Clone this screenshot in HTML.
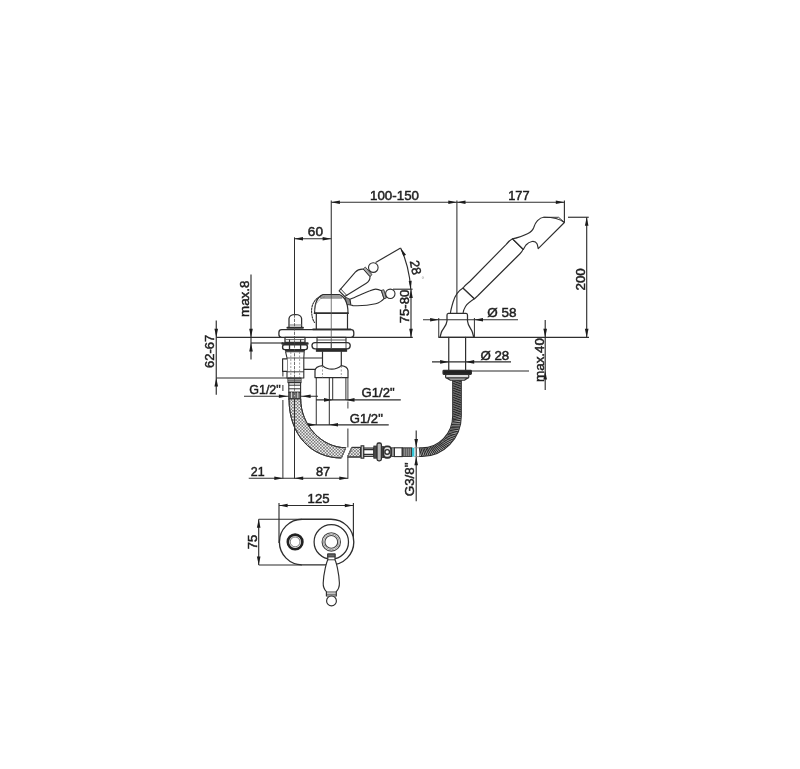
<!DOCTYPE html>
<html lang="en"><head><meta charset="utf-8"><title>Technical drawing</title>
<style>
html,body{margin:0;padding:0;background:#fff;}
body{width:800px;height:769px;overflow:hidden;}
svg{display:block;font-family:"Liberation Sans",sans-serif;}
</style></head><body>
<svg width="800" height="769" viewBox="0 0 800 769">
<defs>
<pattern id="hatch" width="3.1" height="3.1" patternUnits="userSpaceOnUse">
<path d="M0,0 L3.1,3.1 M3.1,0 L0,3.1" stroke="#555" stroke-width="0.6" fill="none"/>
</pattern>
<filter id="soft" x="0" y="0" width="800" height="769" filterUnits="userSpaceOnUse"><feGaussianBlur stdDeviation="0.45"/></filter>
</defs>
<rect width="800" height="769" fill="#fff"/>
<g filter="url(#soft)">
<g id="dims">
<line x1="216.25" y1="337.4" x2="412.8" y2="337.4" stroke="#2e2e2e" stroke-width="1.15" />
<line x1="438.4" y1="337.4" x2="589" y2="337.4" stroke="#2e2e2e" stroke-width="1.15" />
<line x1="331.25" y1="202.25" x2="564.4" y2="202.25" stroke="#2e2e2e" stroke-width="1.15" />
<line x1="564.4" y1="200.6" x2="564.4" y2="222.5" stroke="#2e2e2e" stroke-width="1.15" />
<polygon points="331.25,202.25 339.85,200.45 339.85,204.05" fill="#1c1c1c"/>
<polygon points="456.90,202.25 448.30,204.05 448.30,200.45" fill="#1c1c1c"/>
<polygon points="456.90,202.25 465.50,200.45 465.50,204.05" fill="#1c1c1c"/>
<polygon points="564.40,202.25 555.80,204.05 555.80,200.45" fill="#1c1c1c"/>
<text x="370" y="200" font-size="13" text-anchor="start" fill="#1e1e1e" stroke="#1e1e1e" stroke-width="0.47" textLength="49" lengthAdjust="spacingAndGlyphs">100-150</text>
<text x="508.2" y="200" font-size="13" text-anchor="start" fill="#1e1e1e" stroke="#1e1e1e" stroke-width="0.47" textLength="21.4" lengthAdjust="spacingAndGlyphs">177</text>
<line x1="294.4" y1="238.75" x2="331.25" y2="238.75" stroke="#2e2e2e" stroke-width="1.15" />
<polygon points="294.40,238.75 303.00,236.95 303.00,240.55" fill="#1c1c1c"/>
<polygon points="331.25,238.75 322.65,240.55 322.65,236.95" fill="#1c1c1c"/>
<text x="307.8" y="235.9" font-size="13" text-anchor="start" fill="#1e1e1e" stroke="#1e1e1e" stroke-width="0.47" textLength="15.2" lengthAdjust="spacingAndGlyphs">60</text>
<line x1="375.6" y1="262.6" x2="400.6" y2="248.1" stroke="#2e2e2e" stroke-width="1.15" />
<path d="M400.6,248.1 Q409.2,266 410.8,289.4" stroke="#2e2e2e" stroke-width="1.15" fill="none" />
<polygon points="400.60,248.10 405.98,254.73 403.35,256.18" fill="#1c1c1c"/>
<polygon points="410.80,289.40 408.70,280.93 411.70,280.72" fill="#1c1c1c"/>
<line x1="393" y1="289.2" x2="412.6" y2="289.2" stroke="#2e2e2e" stroke-width="1.15" />
<text font-size="13" fill="#1e1e1e" stroke="#1e1e1e" stroke-width="0.47" text-anchor="middle" transform="translate(411.2,268.3) rotate(79)" textLength="14.6" lengthAdjust="spacingAndGlyphs">28</text>
<text font-size="8" fill="#a8a8a8" transform="translate(423.2,277.6) rotate(79)" x="-1.6" y="4.6">°</text>
<line x1="411" y1="289.4" x2="411" y2="337.4" stroke="#2e2e2e" stroke-width="1.15" />
<polygon points="411.00,289.40 412.80,298.00 409.20,298.00" fill="#1c1c1c"/>
<polygon points="411.00,337.40 409.20,328.80 412.80,328.80" fill="#1c1c1c"/>
<text font-size="13" fill="#1e1e1e" stroke="#1e1e1e" stroke-width="0.47" text-anchor="middle" transform="translate(409.3,306.5) rotate(-90)" textLength="33.4" lengthAdjust="spacingAndGlyphs">75-80</text>
<line x1="216.25" y1="320.6" x2="216.25" y2="394.8" stroke="#2e2e2e" stroke-width="1.15" />
<polygon points="216.25,337.40 214.45,328.80 218.05,328.80" fill="#1c1c1c"/>
<polygon points="216.25,378.00 218.05,386.60 214.45,386.60" fill="#1c1c1c"/>
<line x1="216.25" y1="378" x2="288" y2="378" stroke="#2e2e2e" stroke-width="1.15" />
<text font-size="13" fill="#1e1e1e" stroke="#1e1e1e" stroke-width="0.47" text-anchor="middle" transform="translate(214.2,351.4) rotate(-90)" textLength="33.2" lengthAdjust="spacingAndGlyphs">62-67</text>
<line x1="251" y1="274.4" x2="251" y2="359.4" stroke="#2e2e2e" stroke-width="1.15" />
<polygon points="251.00,337.40 249.20,328.80 252.80,328.80" fill="#1c1c1c"/>
<polygon points="251.00,343.00 252.80,351.60 249.20,351.60" fill="#1c1c1c"/>
<line x1="251" y1="343" x2="283" y2="343" stroke="#2e2e2e" stroke-width="1.15" />
<text font-size="13" fill="#1e1e1e" stroke="#1e1e1e" stroke-width="0.47" text-anchor="middle" transform="translate(249.3,298.8) rotate(-90)" textLength="36.4" lengthAdjust="spacingAndGlyphs">max.8</text>
<line x1="244" y1="396.25" x2="318" y2="396.25" stroke="#2e2e2e" stroke-width="1.15" />
<polygon points="287.50,396.25 278.90,398.05 278.90,394.45" fill="#1c1c1c"/>
<polygon points="302.00,396.25 310.60,394.45 310.60,398.05" fill="#1c1c1c"/>
<text x="249.2" y="393.8" font-size="13" text-anchor="start" fill="#1e1e1e" stroke="#1e1e1e" stroke-width="0.47" textLength="31.6" lengthAdjust="spacingAndGlyphs">G1/2"</text>
<line x1="316" y1="399.9" x2="400.8" y2="399.9" stroke="#2e2e2e" stroke-width="1.15" />
<polygon points="332.60,399.90 324.00,401.70 324.00,398.10" fill="#1c1c1c"/>
<polygon points="345.90,399.90 354.50,398.10 354.50,401.70" fill="#1c1c1c"/>
<text x="361.6" y="397.4" font-size="13" text-anchor="start" fill="#1e1e1e" stroke="#1e1e1e" stroke-width="0.47" textLength="33" lengthAdjust="spacingAndGlyphs">G1/2"</text>
<line x1="300" y1="424.8" x2="388.75" y2="424.8" stroke="#2e2e2e" stroke-width="1.15" />
<polygon points="316.25,424.80 307.65,426.60 307.65,423.00" fill="#1c1c1c"/>
<polygon points="329.40,424.80 338.00,423.00 338.00,426.60" fill="#1c1c1c"/>
<text x="349.8" y="422.6" font-size="13" text-anchor="start" fill="#1e1e1e" stroke="#1e1e1e" stroke-width="0.47" textLength="33" lengthAdjust="spacingAndGlyphs">G1/2"</text>
<line x1="248.75" y1="478.25" x2="347.9" y2="478.25" stroke="#2e2e2e" stroke-width="1.15" />
<line x1="282.9" y1="400" x2="282.9" y2="478.7" stroke="#2e2e2e" stroke-width="1.0" />
<line x1="282.9" y1="371.4" x2="282.9" y2="376.5" stroke="#2e2e2e" stroke-width="1.0" />
<line x1="282.9" y1="385" x2="282.9" y2="391" stroke="#2e2e2e" stroke-width="1.0" />
<line x1="347.9" y1="428.5" x2="347.9" y2="447.4" stroke="#2e2e2e" stroke-width="1.0" />
<line x1="347.9" y1="457.2" x2="347.9" y2="478.8" stroke="#2e2e2e" stroke-width="1.0" />
<polygon points="282.90,478.25 274.30,480.05 274.30,476.45" fill="#1c1c1c"/>
<polygon points="294.60,478.25 303.20,476.45 303.20,480.05" fill="#1c1c1c"/>
<polygon points="347.90,478.25 339.30,480.05 339.30,476.45" fill="#1c1c1c"/>
<text x="250.8" y="475.7" font-size="13" text-anchor="start" fill="#1e1e1e" stroke="#1e1e1e" stroke-width="0.47" textLength="13.8" lengthAdjust="spacingAndGlyphs">21</text>
<text x="316" y="475.7" font-size="13" text-anchor="start" fill="#1e1e1e" stroke="#1e1e1e" stroke-width="0.47" textLength="14.2" lengthAdjust="spacingAndGlyphs">87</text>
<line x1="423" y1="319.75" x2="518" y2="319.75" stroke="#2e2e2e" stroke-width="1.15" />
<line x1="438.75" y1="318" x2="438.75" y2="337.4" stroke="#2e2e2e" stroke-width="1.0" />
<line x1="474.4" y1="318" x2="474.4" y2="337.4" stroke="#2e2e2e" stroke-width="1.0" />
<polygon points="438.75,319.75 430.15,321.55 430.15,317.95" fill="#1c1c1c"/>
<polygon points="474.40,319.75 483.00,317.95 483.00,321.55" fill="#1c1c1c"/>
<text x="487.2" y="317" font-size="13" text-anchor="start" fill="#1e1e1e" stroke="#1e1e1e" stroke-width="0.47" textLength="29.2" lengthAdjust="spacingAndGlyphs">Ø 58</text>
<line x1="432" y1="361.9" x2="511" y2="361.9" stroke="#2e2e2e" stroke-width="1.15" />
<polygon points="448.75,361.90 440.15,363.70 440.15,360.10" fill="#1c1c1c"/>
<polygon points="465.60,361.90 474.20,360.10 474.20,363.70" fill="#1c1c1c"/>
<text x="480.4" y="359.5" font-size="13" text-anchor="start" fill="#1e1e1e" stroke="#1e1e1e" stroke-width="0.47" textLength="28.8" lengthAdjust="spacingAndGlyphs">Ø 28</text>
<line x1="471" y1="371" x2="529" y2="371" stroke="#2e2e2e" stroke-width="1.15" />
<line x1="545.2" y1="320" x2="545.2" y2="390" stroke="#2e2e2e" stroke-width="1.15" />
<polygon points="545.20,337.40 543.40,328.80 547.00,328.80" fill="#1c1c1c"/>
<polygon points="545.20,371.00 547.00,379.60 543.40,379.60" fill="#1c1c1c"/>
<text font-size="13" fill="#1e1e1e" stroke="#1e1e1e" stroke-width="0.47" text-anchor="middle" transform="translate(544.4,360) rotate(-90)" textLength="44" lengthAdjust="spacingAndGlyphs">max.40</text>
<line x1="568" y1="217.25" x2="588.75" y2="217.25" stroke="#2e2e2e" stroke-width="1.15" />
<line x1="586.7" y1="217.25" x2="586.7" y2="337.4" stroke="#2e2e2e" stroke-width="1.15" />
<polygon points="586.70,217.25 588.50,225.85 584.90,225.85" fill="#1c1c1c"/>
<polygon points="586.70,337.40 584.90,328.80 588.50,328.80" fill="#1c1c1c"/>
<text font-size="13" fill="#1e1e1e" stroke="#1e1e1e" stroke-width="0.47" text-anchor="middle" transform="translate(585.1,279.4) rotate(-90)" textLength="22.4" lengthAdjust="spacingAndGlyphs">200</text>
<line x1="416.2" y1="430.6" x2="416.2" y2="501.3" stroke="#2e2e2e" stroke-width="1.15" />
<polygon points="416.20,447.50 414.40,438.90 418.00,438.90" fill="#1c1c1c"/>
<polygon points="416.20,456.70 418.00,465.30 414.40,465.30" fill="#1c1c1c"/>
<text font-size="13" fill="#1e1e1e" stroke="#1e1e1e" stroke-width="0.47" text-anchor="middle" transform="translate(413.7,479.4) rotate(-90)" textLength="33.8" lengthAdjust="spacingAndGlyphs">G3/8"</text>
<line x1="279" y1="505.5" x2="353.4" y2="505.5" stroke="#2e2e2e" stroke-width="1.15" />
<line x1="279" y1="503" x2="279" y2="543" stroke="#2e2e2e" stroke-width="1.15" />
<line x1="353.4" y1="503" x2="353.4" y2="540" stroke="#2e2e2e" stroke-width="1.15" />
<polygon points="279.00,505.50 287.60,503.70 287.60,507.30" fill="#1c1c1c"/>
<polygon points="353.40,505.50 344.80,507.30 344.80,503.70" fill="#1c1c1c"/>
<text x="307.6" y="502.8" font-size="13" text-anchor="start" fill="#1e1e1e" stroke="#1e1e1e" stroke-width="0.47" textLength="22" lengthAdjust="spacingAndGlyphs">125</text>
<line x1="258.7" y1="519.25" x2="258.7" y2="565" stroke="#2e2e2e" stroke-width="1.15" />
<line x1="258.7" y1="519.25" x2="302" y2="519.25" stroke="#2e2e2e" stroke-width="1.15" />
<line x1="258.7" y1="565" x2="302" y2="565" stroke="#2e2e2e" stroke-width="1.15" />
<polygon points="258.70,519.25 260.50,527.85 256.90,527.85" fill="#1c1c1c"/>
<polygon points="258.70,565.00 256.90,556.40 260.50,556.40" fill="#1c1c1c"/>
<text font-size="13" fill="#1e1e1e" stroke="#1e1e1e" stroke-width="0.47" text-anchor="middle" transform="translate(257.2,542) rotate(-90)" textLength="14.6" lengthAdjust="spacingAndGlyphs">75</text>
</g>
<g id="parts">
<!-- ============ FAUCET SIDE VIEW ============ -->
<g stroke="#2e2e2e" stroke-width="1.1" fill="none" stroke-linejoin="round" stroke-linecap="round">
  <!-- base plate -->
  <rect x="278.9" y="329.7" width="74.9" height="7.7" rx="2.8" fill="#fff" stroke-width="1.3"/>
  <!-- dome -->
  <path d="M314.6,313.1 C314.6,303.5 317.5,296.6 323,294.6 L339.2,294.6 C344.8,296.6 348,303.5 348,313.1 Z" fill="#fff" stroke-width="1.2"/>
  <path d="M320.4,297.9 L341.8,297.9" stroke-width="1"/>
  <path d="M322.2,294.9 L340,294.9 L341.8,297.9 L320.4,297.9 Z" fill="#9a9a9a" stroke="none"/>
  <path d="M314.4,313.2 L348.2,313.2" stroke-width="1.5"/>
  <path d="M316.3,313.2 L316.3,329.3 M347.5,313.2 L347.5,329.3" stroke-width="1.2"/>
  <path d="M313,329.4 L350.6,329.4" stroke-width="1.6"/>
  <!-- dashed swing arc -->
  <path d="M322,295.6 C314.5,298.5 311.2,305 311.6,312 C311.9,317 313,320.5 314.6,322.5" stroke="#333" stroke-width="1.1" stroke-dasharray="1.6 1.2"/>
  <path d="M324.5,297 C318,299.5 314.2,305 314.3,311" stroke="#777" stroke-width="0.7" stroke-dasharray="1.2 1.6"/>
  <!-- lower handle -->
  <path d="M345.4,297.2 L350,299.3 L350.9,305 L347.4,304.6 Z" fill="#8a8a8a" stroke-width="0.9"/>
  <path d="M350,299.3 C357,296.5 364,293 370,290.8 C372.5,289.7 374.5,289.1 375.7,289.1 C378,289.1 380,290 381.5,290.8 L384,298.7 C383,299.8 382,300.7 380.5,301.6 C379,302.6 377.5,303.4 375.7,303.8 C368,305.5 358,305.8 353,305.6 L350.9,305 Z" fill="#fff"/>
  <path d="M381.5,290.8 L384,298.7 L386.4,298 L383.9,290.1 Z" fill="#aaa" stroke-width="0.9"/>
  <circle cx="390.3" cy="293.8" r="4.7" fill="#fff"/>
  <!-- upper handle -->
  <path d="M339.1,290.8 L355.3,272.1 C357.5,269.8 361,268.9 363.5,269.2 L370,276.5 C370.2,279.5 368.3,282 365.9,283.5 L344.75,296.5 Z" fill="#fff"/>
  <path d="M340.8,289 L346.6,295.2" stroke-width="0.9"/>
  <path d="M363.5,269.2 L370,276.5 L372,274.6 L365.6,267.4 Z" fill="#aaa" stroke-width="0.9"/>
  <circle cx="373.3" cy="267.6" r="4.8" fill="#fff"/>
  <!-- diverter knob -->
  <path d="M289,327 L289,318.6 Q289.4,314.6 295.3,314.5 Q301.2,314.6 301.6,318.6 L301.6,327" fill="#fff" stroke-width="1.25"/>
  <path d="M289,325 L301.6,325" stroke-width="0.9" stroke="#666"/>
  <path d="M287.4,327.8 L303,327.8" stroke-width="1.9"/>
  
</g>
<!-- left under-deck stack -->
<g stroke="#2e2e2e" stroke-width="1.1" fill="#fff" stroke-linejoin="round">
  <rect x="285" y="337.4" width="20" height="5" stroke-width="1.3"/>
  <path d="M285,339.6 L305,339.6" stroke="#666" stroke-width="1"/>
  <path d="M289.5,339.6 L289.5,342.4 M300.6,339.6 L300.6,342.4" stroke-width="1.1"/>
  <rect x="281.4" y="342.3" width="27.2" height="2.5" rx="0.8" fill="#2e2e2e" stroke="none"/>
  <rect x="282.6" y="344.8" width="24.8" height="4.8" rx="2" stroke-width="1.4"/>
  <path d="M289.5,344.8 L289.5,349.6 M300.6,344.8 L300.6,349.6" stroke-width="1.3"/>
  <rect x="285" y="349.8" width="20" height="1.7" fill="#2e2e2e" stroke="none"/>
  <path d="M286.2,353.1 L303.8,353.1" stroke-width="1"/>
  <path d="M285.6,351.8 L287,358 L287,378 L303.8,378 L303.8,358 L304.2,351.8 Z"/>
  <path d="M287,358 L303.8,358" stroke-width="0.8"/>
  <path d="M287,371.8 L303.8,371.8" stroke-width="0.9"/>
  <path d="M287,358.8 L282.6,358.8 L282.6,371.4 L287,371.4" stroke-width="1.2"/>
  <path d="M290.8,352 L290.8,378 M299.6,352 L299.6,378" stroke="#777" stroke-width="0.7" stroke-dasharray="2 1.5"/>
  <!-- threads -->
  <rect x="288" y="378" width="13" height="4.6" fill="#555"/>
  <path d="M288,379.6 L301,379.6 M288,381.2 L301,381.2" stroke="#ddd" stroke-width="0.6"/>
  <rect x="288.8" y="382.6" width="11.8" height="9.6"/>
  <path d="M288.8,385.2 L300.6,385.2 M288.8,388.8 L300.6,388.8" stroke-width="1"/>
  <rect x="288.8" y="392.2" width="11.8" height="7" fill="#666"/>
  <path d="M291.6,392.2 L291.6,399.2 M294.7,392.2 L294.7,399.2 M297.8,392.2 L297.8,399.2" stroke="#eee" stroke-width="0.9"/>
  <!-- cross pipe -->
  <path d="M303.8,358 L322.5,358 M303.8,369.4 L317,369.4" fill="none"/>
</g>
<!-- right under-deck stack -->
<g stroke="#2e2e2e" stroke-width="1.1" fill="#fff" stroke-linejoin="round">
  <rect x="317" y="337.4" width="29" height="5.2"/>
  <path d="M317,340 L346,340" stroke-width="0.8"/>
  <rect x="312" y="342.6" width="38.2" height="6.2" rx="3" stroke-width="1.3"/>
  <path d="M317,342.6 L317,348.8 M331.3,342.6 L331.3,348.8 M346,342.6 L346,348.8" stroke-width="0.8"/>
  <rect x="316.4" y="349" width="30.2" height="2.3" fill="#2a2a2a"/>
  <path d="M322.5,351.3 L322.5,366 M341.3,351.3 L341.3,366" fill="none" stroke-width="1.2"/>
  <path d="M315,377.6 L315,370.6 Q315.4,366.4 322.5,365.6 Q326.5,369.2 331.8,369.2 Q337,369.2 341.3,365.6 Q347.6,366.4 348,370.6 L348,377.6 Z" stroke-width="1.2"/>
  <path d="M322.5,366 L322.5,377.6 M341.3,366 L341.3,377.6" stroke="#777" stroke-width="0.7" stroke-dasharray="2 1.5"/>
  <path d="M316.25,377.6 L316.25,425 M329.3,377.6 L329.3,425 M332.7,377.6 L332.7,400 M345.9,377.6 L345.9,400" fill="none" stroke-width="1"/>
  <path d="M347.9,377.6 L347.9,400 M347.9,401.5 L347.9,408.5" fill="none" stroke-width="0.9"/>
</g>

<!-- ============ BRAIDED HOSE ============ -->
<g stroke="#333" stroke-width="1.0" stroke-linejoin="round">
<path id="h1" d="M289,398.8 C289,435 311.25,458 341.4,458 L345.8,447.7 C321.5,447.7 300.7,425 300.7,398.8 Z" fill="#f2f2f2"/>
<path d="M289,398.8 C289,435 311.25,458 341.4,458 L345.8,447.7 C321.5,447.7 300.7,425 300.7,398.8 Z" fill="url(#hatch)"/>
<path d="M347.4,457 L351.8,447.4 L360.7,447.4 L360.7,457 Z" fill="#f2f2f2"/>
<path d="M347.4,457 L351.8,447.4 L360.7,447.4 L360.7,457 Z" fill="url(#hatch)"/>
</g>
<path d="M345.8,447.7 L341.4,458 M351.8,447.4 L347.4,457" stroke="#888" stroke-width="0.8" fill="none"/>

<!-- ============ FITTING ============ -->
<g stroke="#2e2e2e" stroke-width="1.1" fill="#fff">
  <rect x="361.1" y="445.8" width="2.7" height="12.4" fill="#c8c8c8" stroke-width="1.1"/>
  <rect x="363.8" y="448" width="10" height="8.4"/>
  <path d="M363.8,449.6 L373.8,449.6 M363.8,454.4 L373.8,454.4" stroke-width="1.5"/>
  <rect x="373.8" y="446" width="2.8" height="12.2" fill="#4a4a4a" stroke-width="0.8"/>
  <rect x="377" y="443" width="4.4" height="17.8" rx="1.8" fill="#bbb" stroke-width="1.3"/>
  <rect x="381.4" y="446.6" width="2.2" height="11" fill="#4a4a4a" stroke-width="0.8"/>
  <rect x="383.4" y="446.4" width="7.8" height="11.4" rx="3.2" stroke-width="1.9" fill="#e4e4e4"/>
  <circle cx="387.2" cy="451.9" r="2.3" stroke-width="1.4"/>
  <rect x="391.6" y="447.8" width="2.8" height="8.8" fill="#9a9a9a" stroke-width="0.8"/>
  <rect x="394.4" y="447.8" width="7.8" height="8.8"/>
  <rect x="402.2" y="447.8" width="9.8" height="8.8" fill="#444" stroke-width="0.8"/>
  <path d="M404.2,448.4 L404.2,456 M406.2,448.4 L406.2,456 M408.2,448.4 L408.2,456 M410.2,448.4 L410.2,456" stroke="#d8d8d8" stroke-width="0.7"/>
  <rect x="412" y="447.8" width="2.4" height="8.8" fill="#35c4d6" stroke="none"/>
  <path d="M414.4,447.8 L419.4,447.8 M414.4,456.6 L419.4,456.6" stroke="#888" stroke-width="0.9"/>
</g>

<!-- ============ SPIRAL SHOWER HOSE ============ -->
<path d="M457,379.6 L457,416 C457,436 441,452.2 422,452.2 L419.2,452.2" fill="none" stroke="#2a2a2a" stroke-width="9.7"/>
<path d="M457,380.2 L457,416 C457,436 441,452.2 422,452.2 L419.6,452.2" fill="none" stroke="#c4c4c4" stroke-width="7.6"/>
<path d="M453.10,381.85 L460.90,379.65 M453.10,383.60 L460.90,381.40 M453.10,385.35 L460.90,383.15 M453.10,387.10 L460.90,384.90 M453.10,388.85 L460.90,386.65 M453.10,390.60 L460.90,388.40 M453.10,392.35 L460.90,390.15 M453.10,394.10 L460.90,391.90 M453.10,395.85 L460.90,393.65 M453.10,397.60 L460.90,395.40 M453.10,399.35 L460.90,397.15 M453.10,401.10 L460.90,398.90 M453.10,402.85 L460.90,400.65 M453.10,404.60 L460.90,402.40 M453.10,406.35 L460.90,404.15 M453.10,408.10 L460.90,405.90 M453.10,409.85 L460.90,407.65 M453.10,411.60 L460.90,409.40 M453.10,413.35 L460.90,411.15 M453.10,415.10 L460.90,412.90 M453.10,416.85 L460.90,414.65 M453.03,418.44 L460.91,416.55 M452.89,419.89 L460.85,418.35 M452.67,421.44 L460.69,420.29 M452.38,422.98 L460.44,422.20 M452.02,424.48 L460.11,424.09 M451.55,426.08 L459.65,426.09 M451.05,427.52 L459.14,427.91 M450.48,428.92 L458.55,429.69 M449.80,430.41 L457.82,431.58 M449.12,431.74 L457.07,433.28 M448.30,433.15 L456.18,435.08 M447.50,434.40 L455.27,436.69 M446.56,435.71 L454.22,438.38 M445.57,436.97 L453.08,440.01 M444.60,438.09 L451.97,441.46 M443.50,439.24 L450.70,442.97 M442.35,440.34 L449.35,444.41 M441.14,441.37 L447.94,445.79 M439.89,442.34 L446.46,447.09 M438.70,443.18 L445.04,448.23 M437.36,444.03 L443.45,449.38 M435.99,444.80 L441.80,450.46 M434.58,445.51 L440.09,451.45 M433.13,446.14 L438.33,452.35 M431.66,446.69 L436.53,453.17 M430.27,447.13 L434.82,453.84 M428.74,447.54 L432.93,454.48 M427.19,447.86 L431.00,455.01 M425.74,448.08 L429.18,455.42 M424.14,448.24 L427.19,455.75 M422.65,448.31 L425.31,455.97 M421.02,448.31 L423.27,456.09 M419.40,448.30 L421.60,456.10" fill="none" stroke="#2a2a2a" stroke-width="1.15"/>

<!-- ============ HAND SHOWER ============ -->
<g stroke="#2e2e2e" stroke-width="1.15" fill="#fff" stroke-linejoin="round" stroke-linecap="round">
  <!-- stem -->
  <path d="M448.75,337.4 L448.75,370.6 M465.6,337.4 L465.6,370.6" fill="none" stroke-width="1.2"/>
  <rect x="443" y="370.4" width="28.4" height="4" fill="#222" rx="0.8"/>
  <rect x="445.6" y="374.4" width="23.2" height="3.6" rx="1" fill="#ddd"/>
  <path d="M446.6,378 L450.4,380.2 L464.4,380.2 L467.8,378 Z" fill="#bbb"/>
  <!-- holder -->
  <path d="M448.4,313.4 L466.1,313.4 Q467.5,313.5 467.5,315 L467.5,321 C467.9,326.2 471.6,329 472.5,332.5 L473.8,337.4 L440,337.4 L441.3,332.5 C442.2,329 446.6,326.2 447,321 L447,315 Q447,313.5 448.4,313.4 Z" stroke-width="1.25" fill="none"/>
  <!-- neck -->
  <path d="M463,288 C458,291 454.8,296 453.1,302 C451.6,307 450.7,310 450.4,313.4 L463,313.4 C463.2,311 464,309 465.5,306.5 C467,304 470,301.5 474.4,298.75 Z"/>
  <!-- handle -->
  <path d="M463,288 C465,285 467.6,283.4 470,281.25 L506.25,244.4 C507.6,242.6 510,240 512.5,238.75 L523,249.4 C522.4,251 521.4,252.4 520,253.75 L477.5,296 C476.4,297 475.4,297.8 474.4,298.75 Z"/>
  <!-- head -->
  <path d="M512.5,238.75 C518,238 524,235.5 527.5,233.75 C531,232 533,229.6 533.75,227.5 C534.5,225 535.5,222.6 537.5,220.6 C539.5,218.6 541.5,217.35 543.75,217.3 C552,217.2 559.4,218.7 564.4,222.5 L538.2,248.6 C537.8,246.6 537.6,245 537,243.75 C536,241.8 533.6,241.3 532,241.5 C529.5,241.8 527.5,243.3 526,245 C525,246.3 524.3,248 523.4,249.4 Z"/>
  <path d="M543.75,217.3 L558.6,217.3 L564,222" fill="none" stroke-width="0.95"/>
</g>

<!-- ============ PLAN VIEW ============ -->
<g stroke="#2e2e2e" fill="#fff">
  <rect x="279.4" y="519.2" width="74.4" height="45.6" rx="22.8" stroke-width="1.35"/>
  <circle cx="295.1" cy="541.9" r="7.3" stroke-width="2.6" stroke="#222"/>
  <circle cx="295.1" cy="541.9" r="4.9" stroke-width="0.8" stroke="#555"/>
  <circle cx="331.3" cy="541.9" r="17.2" stroke-width="1.25"/>
  <circle cx="331.3" cy="541.9" r="9.2" stroke-width="1.1" stroke="#444"/>
  <circle cx="331.3" cy="541.9" r="7.8" stroke-width="1.0" stroke="#9a9a9a"/>
  <circle cx="331.3" cy="541.9" r="6.4" stroke-width="1.1" stroke="#444"/>
  <path d="M327.8,554 L335,554 L335,559.8 C336.3,562.5 339,573 339.4,583 C339.5,587 337.8,590 336.3,591.6 L336.3,596 L326.4,596 L326.4,591.6 C324.8,590 323,587 323.2,583 C323.6,573 326.5,562.5 327.8,559.8 Z" stroke-width="1.15" stroke-linejoin="round"/>
  <rect x="327.8" y="554" width="7.2" height="3" fill="#666" stroke-width="0.8"/>
  <path d="M327.8,559.8 L335,559.8 M326.4,592 L336.3,592 M326.6,594.2 L336.1,594.2" stroke-width="0.9"/>
  <circle cx="331.5" cy="600.9" r="4.9" stroke-width="1.15"/>
</g>

</g>
<g id="top">
<line x1="331.25" y1="200.6" x2="331.25" y2="294.6" stroke="#2e2e2e" stroke-width="1.05"/>
<line x1="331.25" y1="294.6" x2="331.25" y2="349" stroke="#555" stroke-width="0.8"/>
<line x1="456.9" y1="200.6" x2="456.9" y2="313.3" stroke="#2e2e2e" stroke-width="1.05"/>
<line x1="294.5" y1="237.3" x2="294.5" y2="314.5" stroke="#2e2e2e" stroke-width="1.05"/>
<line x1="294.5" y1="314.5" x2="294.5" y2="399" stroke="#4a4a4a" stroke-width="0.8" stroke-dasharray="3.2 1.1"/>
<line x1="294.5" y1="399" x2="294.5" y2="478.6" stroke="#2e2e2e" stroke-width="1.05"/>
</g>
</g>
</svg>
</body></html>
